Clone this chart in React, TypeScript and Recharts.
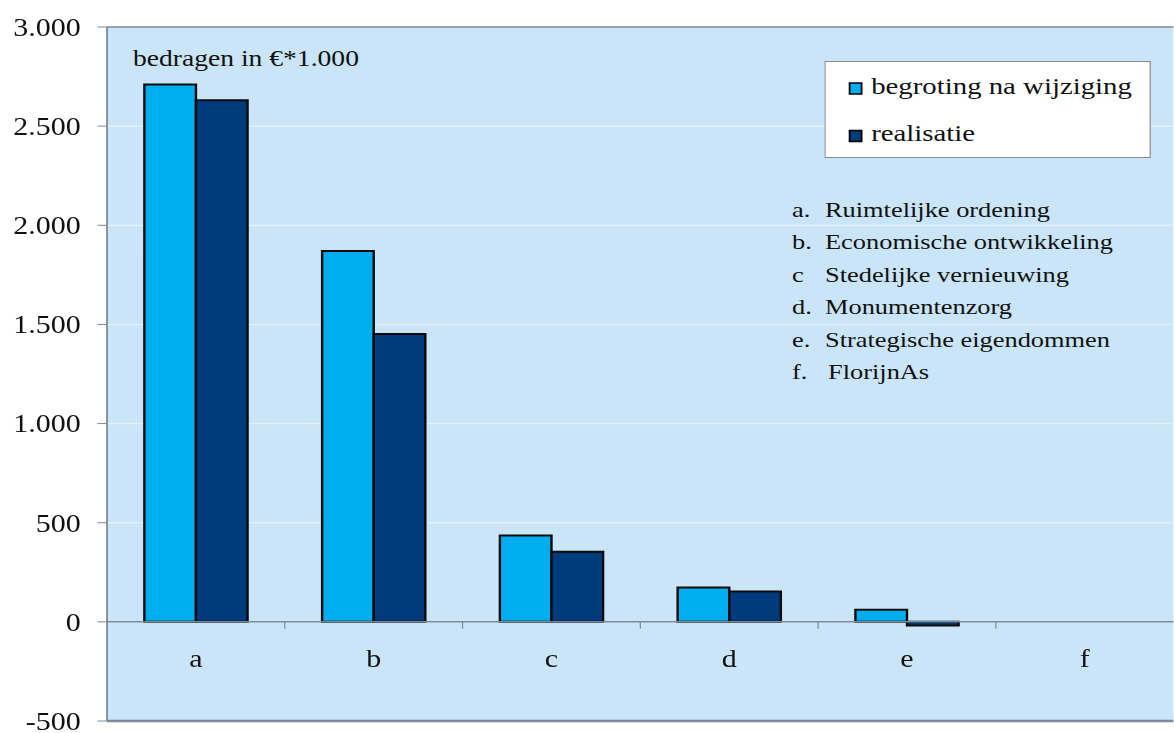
import { BarChart, Bar, XAxis, YAxis, CartesianGrid, ReferenceLine, Legend } from 'recharts';

// the source image is stretched horizontally, so the chart is drawn narrow and scaled
const STRETCH = 1.2;
const CHART_W = 978;
const CHART_H = 733;
const PLOT_TOP = 27;
const PLOT_BOTTOM = 11;
const X_AXIS_H = 1;
const Y_MIN = -500;
const Y_MAX = 3000;

const categories = ['a', 'b', 'c', 'd', 'e', 'f'];
const begroting = [2710, 1870, 436, 173, 61, 0];
const realisatie = [2630, 1452, 353, 153, -18, 0];
const yTicks = [-500, 0, 500, 1000, 1500, 2000, 2500, 3000];

const listLetters = ['a.', 'b.', 'c', 'd.', 'e.', 'f.'];
const listNames = [
  'Ruimtelijke ordening',
  'Economische ontwikkeling',
  'Stedelijke vernieuwing',
  'Monumentenzorg',
  'Strategische eigendommen',
  'FlorijnAs'
];

const data = categories.map((name, i) => ({
  name,
  begroting: begroting[i],
  realisatie: realisatie[i]
}));

const LIGHT = '#00aeef';
const DARK = '#003c7d';
const BG = '#c9e5f7';
const AXIS = '#7d8a97';
const FONT = '"Liberation Serif", "Times New Roman", serif';

const formatNl = (v: number) => {
  const s = Math.abs(v).toString().replace(/\B(?=(\d{3})+(?!\d))/g, '.');
  return v < 0 ? '-' + s : s;
};

const plotH = CHART_H - PLOT_TOP - PLOT_BOTTOM - X_AXIS_H;
const zeroFromBottom = (plotH * (0 - Y_MIN)) / (Y_MAX - Y_MIN);

const CategoryTick = (props: any) => {
  const { x, y, payload } = props;
  const zeroY = y - zeroFromBottom;
  const bx = x - (payload.offset || 0);
  return (
    <g>
      {payload.index > 0 && (
        <line x1={bx} x2={bx} y1={zeroY} y2={zeroY + 7} stroke={AXIS} strokeWidth={1} />
      )}
      <text x={x} y={zeroY + 45} textAnchor="middle" fontFamily={FONT} fontSize={25} fill="#111">
        {payload.value}
      </text>
    </g>
  );
};

const LegendBox = (props: any) => {
  const { payload } = props;
  return (
    <svg width={272} height={97} style={{ display: 'block' }}>
      <rect x={0.5} y={0.5} width={271} height={96} fill="#fff" stroke="#8a8a8a" strokeWidth={1} />
      {(payload || []).map((entry: any, i: number) => (
        <g key={entry.value}>
          <rect x={21} y={22 + i * 47.5} width={10} height={11} fill={entry.color} stroke="#000" strokeWidth={1.5} />
          <text x={39} y={33 + i * 47.5} fontFamily={FONT} fontSize={24} fill="#111">
            {entry.value}
          </text>
        </g>
      ))}
    </svg>
  );
};

export default function App() {
  return (
    <div style={{ position: 'fixed', left: 0, top: 0, width: 1174, height: 733, overflow: 'hidden', background: '#fff' }}>
      <div style={{ width: CHART_W, height: CHART_H, transform: `scale(${STRETCH}, 1)`, transformOrigin: '0 0' }}>
        <BarChart
          width={CHART_W}
          height={CHART_H}
          data={data}
          margin={{ top: PLOT_TOP, right: 0, bottom: PLOT_BOTTOM, left: 0 }}
          barCategoryGap="21%"
          barGap={0}
        >
          <CartesianGrid vertical={false} fill={BG} stroke="#e4f1fa" strokeWidth={1.5} />
          <XAxis
            dataKey="name"
            height={X_AXIS_H}
            tickSize={0}
            tickMargin={0}
            tickLine={false}
            axisLine={{ stroke: AXIS, strokeWidth: 2.5 }}
            tick={<CategoryTick />}
            interval={0}
          />
          <YAxis
            width={89.2}
            domain={[Y_MIN, Y_MAX]}
            ticks={yTicks}
            interval={0}
            allowDataOverflow
            tickFormatter={formatNl}
            tickSize={8}
            tickMargin={14}
            tickLine={{ stroke: AXIS }}
            axisLine={{ stroke: AXIS, strokeWidth: 1.5 }}
            tick={{ fontFamily: FONT, fontSize: 25, fill: '#111' }}
          />
          <ReferenceLine y={Y_MAX} stroke={AXIS} strokeWidth={1.5} />
          <ReferenceLine y={0} stroke={AXIS} strokeWidth={1.5} />
          <Bar dataKey="begroting" name="begroting na wijziging" fill={LIGHT} stroke="#0a0a0a" strokeWidth={2} isAnimationActive={false} />
          <Bar dataKey="realisatie" name="realisatie" fill={DARK} stroke="#0a0a0a" strokeWidth={2} isAnimationActive={false} />
          <Legend
            layout="vertical"
            align="center"
            verticalAlign="middle"
            wrapperStyle={{ top: 61, left: 686.7, width: 272, height: 97 }}
            content={<LegendBox />}
          />
          <text x={110.8} y={66} fontFamily={FONT} fontSize={23} fill="#111">
            bedragen in €*1.000
          </text>
          {listNames.map((name, i) => (
            <text key={name} y={217 + i * 32.4} fontFamily={FONT} fontSize={22} fill="#111">
              <tspan x={660}>{listLetters[i]}</tspan>
              <tspan x={i === 5 ? 690 : 687.5}>{name}</tspan>
            </text>
          ))}
        </BarChart>
      </div>
    </div>
  );
}
